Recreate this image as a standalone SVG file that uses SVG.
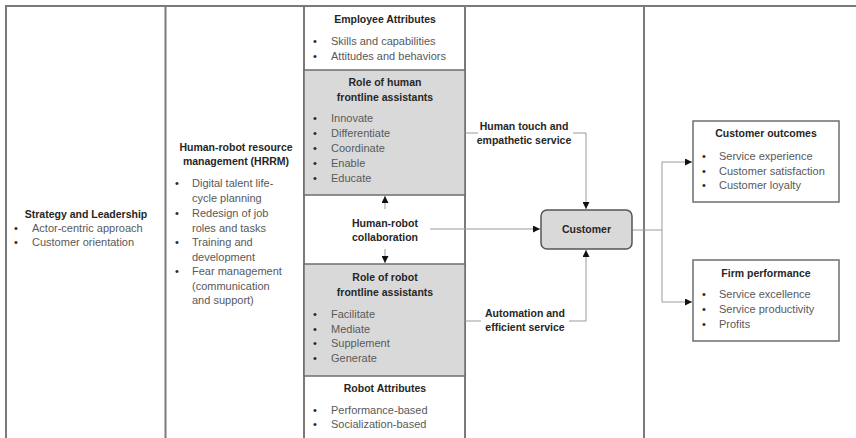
<svg xmlns="http://www.w3.org/2000/svg" width="856" height="438" viewBox="0 0 856 438">
  <style>
    text { font-family: "Liberation Sans", Arial, sans-serif; }
    .h { font-size: 10.5px; font-weight: bold; fill: #262626; text-anchor: middle; }
    .b { font-size: 11px; fill: #595959; }
    .dot { font-size: 11px; fill: #262626; }
    .frame { stroke: #7a7a7a; stroke-width: 2; fill: none; }
    .band { fill: #d9d9d9; stroke: #6e6e6e; stroke-width: 1.5; }
    .box { fill: #ffffff; stroke: #6e6e6e; stroke-width: 1.5; }
    .conn { stroke: #9a9a9a; stroke-width: 1; fill: none; }
    .mask { fill: #ffffff; }
  </style>
  <defs>
    <marker id="arrow" markerUnits="userSpaceOnUse" markerWidth="7" markerHeight="7" refX="7" refY="3.5" orient="auto">
      <path d="M0,0 L7,3.5 L0,7 z" fill="#111"/>
    </marker>
  </defs>

  <rect width="856" height="438" fill="#ffffff"/>

  <!-- page frame and column rules -->
  <g id="frame" class="frame">
    <line x1="5" y1="6" x2="856" y2="6"/>
    <line x1="6" y1="6" x2="6" y2="438"/>
    <line x1="165.5" y1="6" x2="165.5" y2="438"/>
    <line x1="304" y1="6" x2="304" y2="438"/>
    <line x1="465" y1="6" x2="465" y2="438"/>
    <line x1="644" y1="6" x2="644" y2="438"/>
  </g>

  <!-- shaded role bands in the centre column -->
  <rect class="band" x="304" y="70" width="161" height="125"/>
  <rect class="band" x="304" y="264" width="161" height="112"/>

  <!-- connectors -->
  <g id="connectors">
    <polyline class="conn" points="465,133 586,133 586,209" marker-end="url(#arrow)"/>
    <polyline class="conn" points="465,321 586,321 586,250" marker-end="url(#arrow)"/>
    <line class="conn" x1="430" y1="229" x2="540" y2="229" marker-end="url(#arrow)"/>
    <line class="conn" x1="385" y1="209" x2="385" y2="196" marker-end="url(#arrow)"/>
    <line class="conn" x1="385" y1="249" x2="385" y2="263" marker-end="url(#arrow)"/>
    <polyline class="conn" points="632,230 662,230 662,162 692,162" marker-end="url(#arrow)"/>
    <polyline class="conn" points="662,230 662,302 692,302" marker-end="url(#arrow)"/>
    <rect class="mask" x="478" y="121" width="95" height="27"/>
    <text class="h" x="524" y="130">Human touch and</text>
    <text class="h" x="524" y="144">empathetic service</text>
    <rect class="mask" x="481" y="308" width="88" height="27"/>
    <text class="h" x="525" y="317">Automation and</text>
    <text class="h" x="525" y="331">efficient service</text>
  </g>

  <g id="strategy">
    <text class="h" x="86" y="218">Strategy and Leadership</text>
    <text class="dot" x="14" y="232">•</text><text class="b" x="32" y="232">Actor-centric approach</text>
    <text class="dot" x="14" y="246">•</text><text class="b" x="32" y="246">Customer orientation</text>
  </g>

  <g id="hrrm">
    <text class="h" x="236" y="151">Human-robot resource</text>
    <text class="h" x="236" y="165">management (HRRM)</text>
    <text class="dot" x="175" y="187">•</text><text class="b" x="192" y="187">Digital talent life-</text>
    <text class="b" x="192" y="202">cycle planning</text>
    <text class="dot" x="175" y="217">•</text><text class="b" x="192" y="217">Redesign of job</text>
    <text class="b" x="192" y="232">roles and tasks</text>
    <text class="dot" x="175" y="246">•</text><text class="b" x="192" y="246">Training and</text>
    <text class="b" x="192" y="261">development</text>
    <text class="dot" x="175" y="275">•</text><text class="b" x="192" y="275">Fear management</text>
    <text class="b" x="192" y="290">(communication</text>
    <text class="b" x="192" y="304">and support)</text>
  </g>

  <g id="employee-attributes">
    <text class="h" x="385" y="23">Employee Attributes</text>
    <text class="dot" x="313" y="45">•</text><text class="b" x="331" y="45">Skills and capabilities</text>
    <text class="dot" x="313" y="60">•</text><text class="b" x="331" y="60">Attitudes and behaviors</text>
  </g>

  <g id="human-role">
    <text class="h" x="385" y="86">Role of human</text>
    <text class="h" x="385" y="101">frontline assistants</text>
    <text class="dot" x="313" y="122">•</text><text class="b" x="331" y="122">Innovate</text>
    <text class="dot" x="313" y="137">•</text><text class="b" x="331" y="137">Differentiate</text>
    <text class="dot" x="313" y="152">•</text><text class="b" x="331" y="152">Coordinate</text>
    <text class="dot" x="313" y="167">•</text><text class="b" x="331" y="167">Enable</text>
    <text class="dot" x="313" y="182">•</text><text class="b" x="331" y="182">Educate</text>
  </g>

  <g id="collaboration">
    <text class="h" x="385" y="227">Human-robot</text>
    <text class="h" x="385" y="241">collaboration</text>
  </g>

  <g id="robot-role">
    <text class="h" x="385" y="281">Role of robot</text>
    <text class="h" x="385" y="296">frontline assistants</text>
    <text class="dot" x="313" y="318">•</text><text class="b" x="331" y="318">Facilitate</text>
    <text class="dot" x="313" y="333">•</text><text class="b" x="331" y="333">Mediate</text>
    <text class="dot" x="313" y="347">•</text><text class="b" x="331" y="347">Supplement</text>
    <text class="dot" x="313" y="362">•</text><text class="b" x="331" y="362">Generate</text>
  </g>

  <g id="robot-attributes">
    <text class="h" x="385" y="392">Robot Attributes</text>
    <text class="dot" x="313" y="414">•</text><text class="b" x="331" y="414">Performance-based</text>
    <text class="dot" x="313" y="428">•</text><text class="b" x="331" y="428">Socialization-based</text>
  </g>

  <g id="customer">
    <rect x="541" y="210" width="91" height="39" rx="6" fill="#d9d9d9" stroke="#555" stroke-width="1.5"/>
    <text class="h" x="586.5" y="233">Customer</text>
  </g>

  <g id="customer-outcomes">
    <rect class="box" x="693" y="121" width="146" height="81"/>
    <text class="h" x="766" y="137">Customer outcomes</text>
    <text class="dot" x="702" y="160">•</text><text class="b" x="719" y="160">Service experience</text>
    <text class="dot" x="702" y="175">•</text><text class="b" x="719" y="175">Customer satisfaction</text>
    <text class="dot" x="702" y="189">•</text><text class="b" x="719" y="189">Customer loyalty</text>
  </g>

  <g id="firm-performance">
    <rect class="box" x="693" y="260" width="146" height="81"/>
    <text class="h" x="766" y="277">Firm performance</text>
    <text class="dot" x="702" y="298">•</text><text class="b" x="719" y="298">Service excellence</text>
    <text class="dot" x="702" y="313">•</text><text class="b" x="719" y="313">Service productivity</text>
    <text class="dot" x="702" y="328">•</text><text class="b" x="719" y="328">Profits</text>
  </g>
</svg>
